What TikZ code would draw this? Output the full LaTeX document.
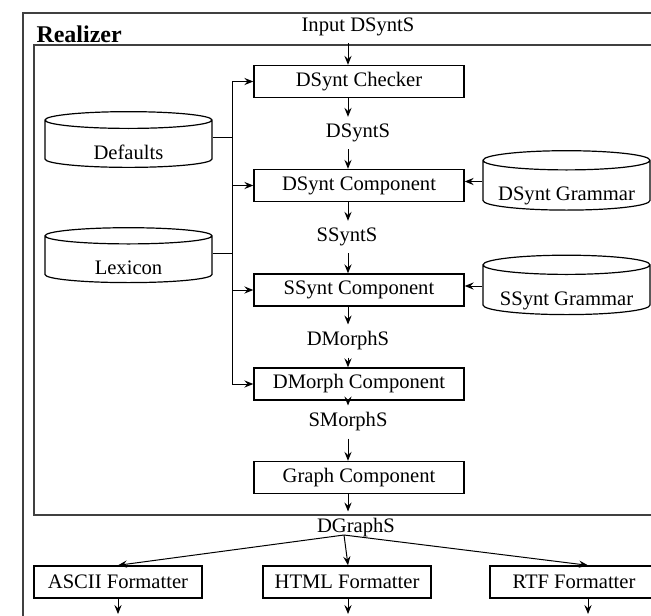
\documentclass[tikz,border=0pt]{standalone}
\usepackage{fontspec}
\setmainfont{Liberation Serif}
\usetikzlibrary{shapes.geometric,arrows.meta,positioning}

\begin{document}
\begin{tikzpicture}[x=0.5pt, y=0.5pt, font=\fontsize{10.3}{12}\selectfont, line width=0.5pt,
        box/.style={draw, rectangle, line width=0.7pt, minimum width=105pt, minimum height=16pt, inner sep=0pt},
        fmt/.style={box, minimum width=84pt},
        store/.style={draw, cylinder, shape border rotate=90, aspect=0.24, minimum width=83.5pt, minimum height=26.5pt, inner sep=0pt, text height=15pt, text depth=0pt, line width=0.6pt},
        frame/.style={line width=1.2pt, black!75},
        >={Stealth[length=4.5pt,width=3.6pt,inset=1.6pt]}]
        \clip (0,0) rectangle (651,-615);

        % frames
        \draw[frame] (23,-13) rectangle (700,-700);
        \draw[frame] (34,-45) rectangle (700,-515);
        \node[anchor=base west, inner sep=0pt, font=\fontsize{12}{14}\selectfont\bfseries] (realizer) at (36,-43) {Realizer};

        % pipeline
        \node (in) at (358,-27) {Input DSyntS};
        \node[box] (chk) at (359,-81.5) {DSynt Checker};
        \node (dsynts) at (358,-133) {DSyntS};
        \node[box] (dcomp) at (359,-185.5) {DSynt Component};
        \node (ssynts) at (347,-237) {SSyntS};
        \node[box] (scomp) at (359,-290) {SSynt Component};
        \node (dmorphs) at (348,-341) {DMorphS};
        \node[box] (dmorph) at (359,-384) {DMorph Component};
        \node (smorphs) at (348,-422) {SMorphS};
        \node[box] (graph) at (359,-477.5) {Graph Component};
        \node (dgraphs) at (356,-528) {DGraphS};

        % resources
        \node[store] (defaults) at (128.5,-144) {Defaults};
        \node[store] (lexicon) at (128.5,-259.5) {Lexicon};
        \node[store, minimum height=27.5pt] (dgram) at (566.5,-185.5) {\makebox[40pt]{DSynt Grammar}};
        \node[store, minimum height=27.5pt] (sgram) at (566.5,-290) {\makebox[40pt]{SSynt Grammar}};

        % formatters
        \node[fmt] (ascii) at (118,-582) {ASCII Formatter};
        \node[fmt] (html) at (347,-582) {HTML Formatter};
        \node[fmt] (rtf) at (574,-582) {RTF Formatter};

        \coordinate (ax) at (348,0);
        \coordinate (rx) at (588,0);
        \coordinate (bus) at (232,0);
        \coordinate (split) at (344,-535);
        \coordinate (bottom) at (0,-614);

        \draw[->] (in.south -| ax) -- (chk.north -| ax);
        \draw[->] (chk.south -| ax) -- (dsynts.north -| ax);
        \draw[->] (dsynts.south -| ax) -- (dcomp.north -| ax);
        \draw[->] (dcomp.south -| ax) -- (ssynts.north -| ax);
        \draw[->] (ssynts.south -| ax) -- (scomp.north -| ax);
        \draw[->] (scomp.south -| ax) -- (dmorphs.north -| ax);
        \draw[->] (dmorphs.south -| ax) -- (dmorph.north -| ax);
        \draw[->] (dmorph.south -| ax) -- (smorphs.north -| ax);
        \draw[->] (smorphs.south -| ax) -- (graph.north -| ax);
        \draw[->] (graph.south -| ax) -- (dgraphs.north -| ax);

        \draw ([yshift=3pt]defaults.east) -- ([yshift=3pt]defaults.east -| bus);
        \draw ([yshift=3pt]lexicon.east) -- ([yshift=3pt]lexicon.east -| bus);
        \draw (chk.west -| bus) -- (dmorph.west -| bus);
        \foreach \n in {chk,dcomp,scomp,dmorph}
            \draw[->] (\n.west -| bus) -- (\n.west);

        \draw[->] ([yshift=2pt]dgram.west) -- ([yshift=2pt]dgram.west -| dcomp.east);
        \draw[->] ([yshift=2pt]sgram.west) -- ([yshift=2pt]sgram.west -| scomp.east);

        \draw[->] (split) -- (ascii.north);
        \draw[->] (split) -- (html.north -| ax);
        \draw[->] (split) -- (rtf.north -| rx);

        \draw[->] (ascii.south) -- (ascii.south |- bottom);
        \draw[->] (html.south -| ax) -- (bottom -| ax);
        \draw[->] (rtf.south -| rx) -- (bottom -| rx);
    \end{tikzpicture}
\end{document}
